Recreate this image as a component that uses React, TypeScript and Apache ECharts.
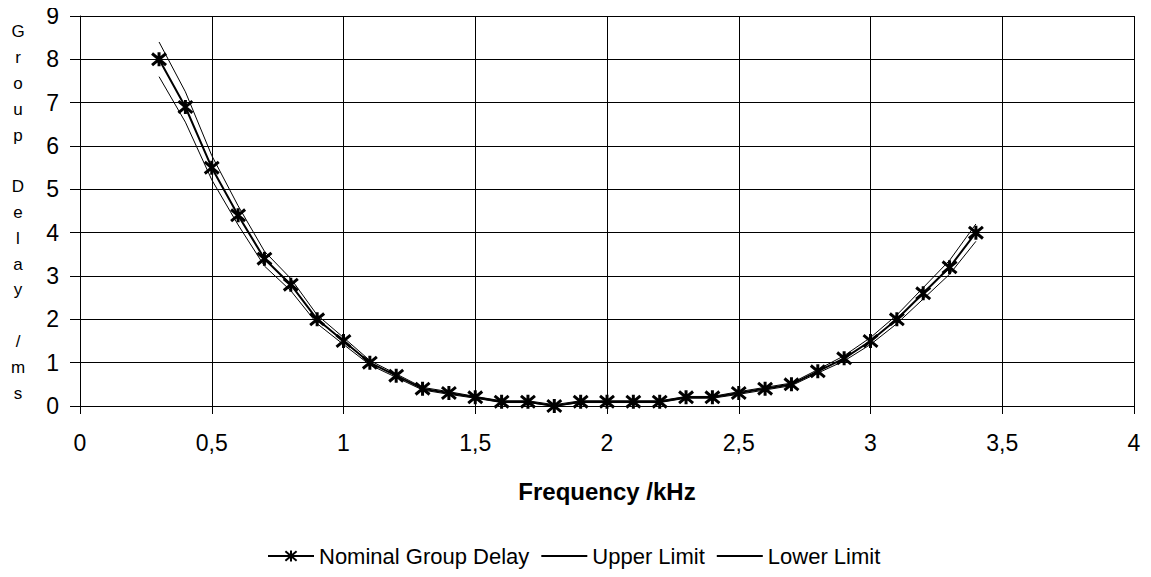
import React, { useEffect, useRef } from "react";
import * as echarts from "echarts";

const freqs = [0.3, 0.4, 0.5, 0.6, 0.7, 0.8, 0.9, 1.0, 1.1, 1.2, 1.3, 1.4, 1.5, 1.6, 1.7, 1.8, 1.9, 2.0, 2.1, 2.2, 2.3, 2.4, 2.5, 2.6, 2.7, 2.8, 2.9, 3.0, 3.1, 3.2, 3.3, 3.4];
const nominal = [8, 6.9, 5.5, 4.4, 3.4, 2.8, 2.0, 1.5, 1.0, 0.7, 0.4, 0.3, 0.2, 0.1, 0.1, 0.0, 0.1, 0.1, 0.1, 0.1, 0.2, 0.2, 0.3, 0.4, 0.5, 0.8, 1.1, 1.5, 2.0, 2.6, 3.2, 4.0];
const upper = [8.4, 7.25, 5.78, 4.62, 3.57, 2.94, 2.1, 1.58, 1.05, 0.74, 0.43, 0.33, 0.22, 0.12, 0.12, 0.03, 0.12, 0.12, 0.12, 0.12, 0.22, 0.22, 0.33, 0.43, 0.53, 0.84, 1.16, 1.58, 2.1, 2.73, 3.36, 4.2];
const lower = [7.6, 6.55, 5.22, 4.18, 3.23, 2.66, 1.9, 1.42, 0.95, 0.66, 0.37, 0.27, 0.18, 0.08, 0.08, 0.0, 0.08, 0.08, 0.08, 0.08, 0.18, 0.18, 0.27, 0.37, 0.47, 0.76, 1.04, 1.42, 1.9, 2.47, 3.04, 3.8];

const seriesNames = ["Nominal Group Delay", "Upper Limit", "Lower Limit"];
const yAxisTitle = "Group Delay /ms";
const xAxisTitle = "Frequency /kHz";

const FONT = "'Liberation Sans', Arial, sans-serif";
const STAR = "path://M0,0L10,10M10,0L0,10M5,-1L5,11";

export default function App() {
  const ref = useRef<HTMLDivElement>(null);
  useEffect(() => {
    if (!ref.current) return;
    const chart = echarts.init(ref.current, null, { renderer: "svg" });
    const pair = (ys: number[]) => freqs.map((f, i) => [f, ys[i]]);
    const verticalTitle = yAxisTitle.split("").join("\n");
    chart.setOption({
      animation: false,
      backgroundColor: "#ffffff",
      textStyle: { fontFamily: FONT },
      grid: { left: 80, right: 17, top: 16, bottom: 171, containLabel: false },
      xAxis: {
        type: "value",
        min: 0,
        max: 4,
        interval: 0.5,
        axisLine: { show: true, lineStyle: { color: "#000", width: 1 } },
        axisTick: { show: true, length: 8, lineStyle: { color: "#000" } },
        splitLine: { show: true, lineStyle: { color: "#000", width: 1 } },
        axisLabel: {
          color: "#000",
          fontSize: 23,
          fontFamily: FONT,
          margin: 25,
          formatter: (v: number) => String(v).replace(".", ","),
        },
        name: xAxisTitle,
        nameLocation: "middle",
        nameGap: 73,
        nameTextStyle: { color: "#000", fontSize: 24, fontWeight: "bold", fontFamily: FONT },
      },
      yAxis: {
        type: "value",
        min: 0,
        max: 9,
        interval: 1,
        axisLine: { show: true, lineStyle: { color: "#000", width: 1 } },
        axisTick: { show: true, length: 10, lineStyle: { color: "#000" } },
        splitLine: { show: true, lineStyle: { color: "#000", width: 1 } },
        axisLabel: { color: "#000", fontSize: 23, fontFamily: FONT, margin: 21 },
      },
      legend: {
        top: 540,
        left: 262,
        itemWidth: 46,
        itemHeight: 14,
        itemGap: 11,
        textStyle: { color: "#000", fontSize: 22, fontFamily: FONT },
        data: [
          { name: seriesNames[0] },
          { name: seriesNames[1], itemStyle: { opacity: 0 } },
          { name: seriesNames[2], itemStyle: { opacity: 0 } },
        ],
      },
      graphic: [
        {
          type: "text",
          x: 18,
          y: 19,
          style: {
            text: verticalTitle,
            fontSize: 17,
            lineHeight: 25.8,
            fill: "#000",
            fontFamily: FONT,
            align: "center",
            verticalAlign: "top",
          },
        },
      ],
      series: [
        {
          name: seriesNames[1],
          type: "line",
          data: pair(upper),
          symbol: "none",
          lineStyle: { color: "#000", width: 1 },
          itemStyle: { color: "#000" },
          z: 2,
        },
        {
          name: seriesNames[2],
          type: "line",
          data: pair(lower),
          symbol: "none",
          lineStyle: { color: "#000", width: 1 },
          itemStyle: { color: "#000" },
          z: 2,
        },
        {
          name: seriesNames[0],
          type: "line",
          data: pair(nominal),
          symbol: STAR,
          symbolSize: 14,
          showAllSymbol: true,
          lineStyle: { color: "#000", width: 2 },
          itemStyle: { color: "#000", borderColor: "#000", borderWidth: 3 },
          z: 3,
        },
      ],
    });
    return () => chart.dispose();
  }, []);
  return <div ref={ref} style={{ width: 1151, height: 577, margin: -8 }} />;
}
